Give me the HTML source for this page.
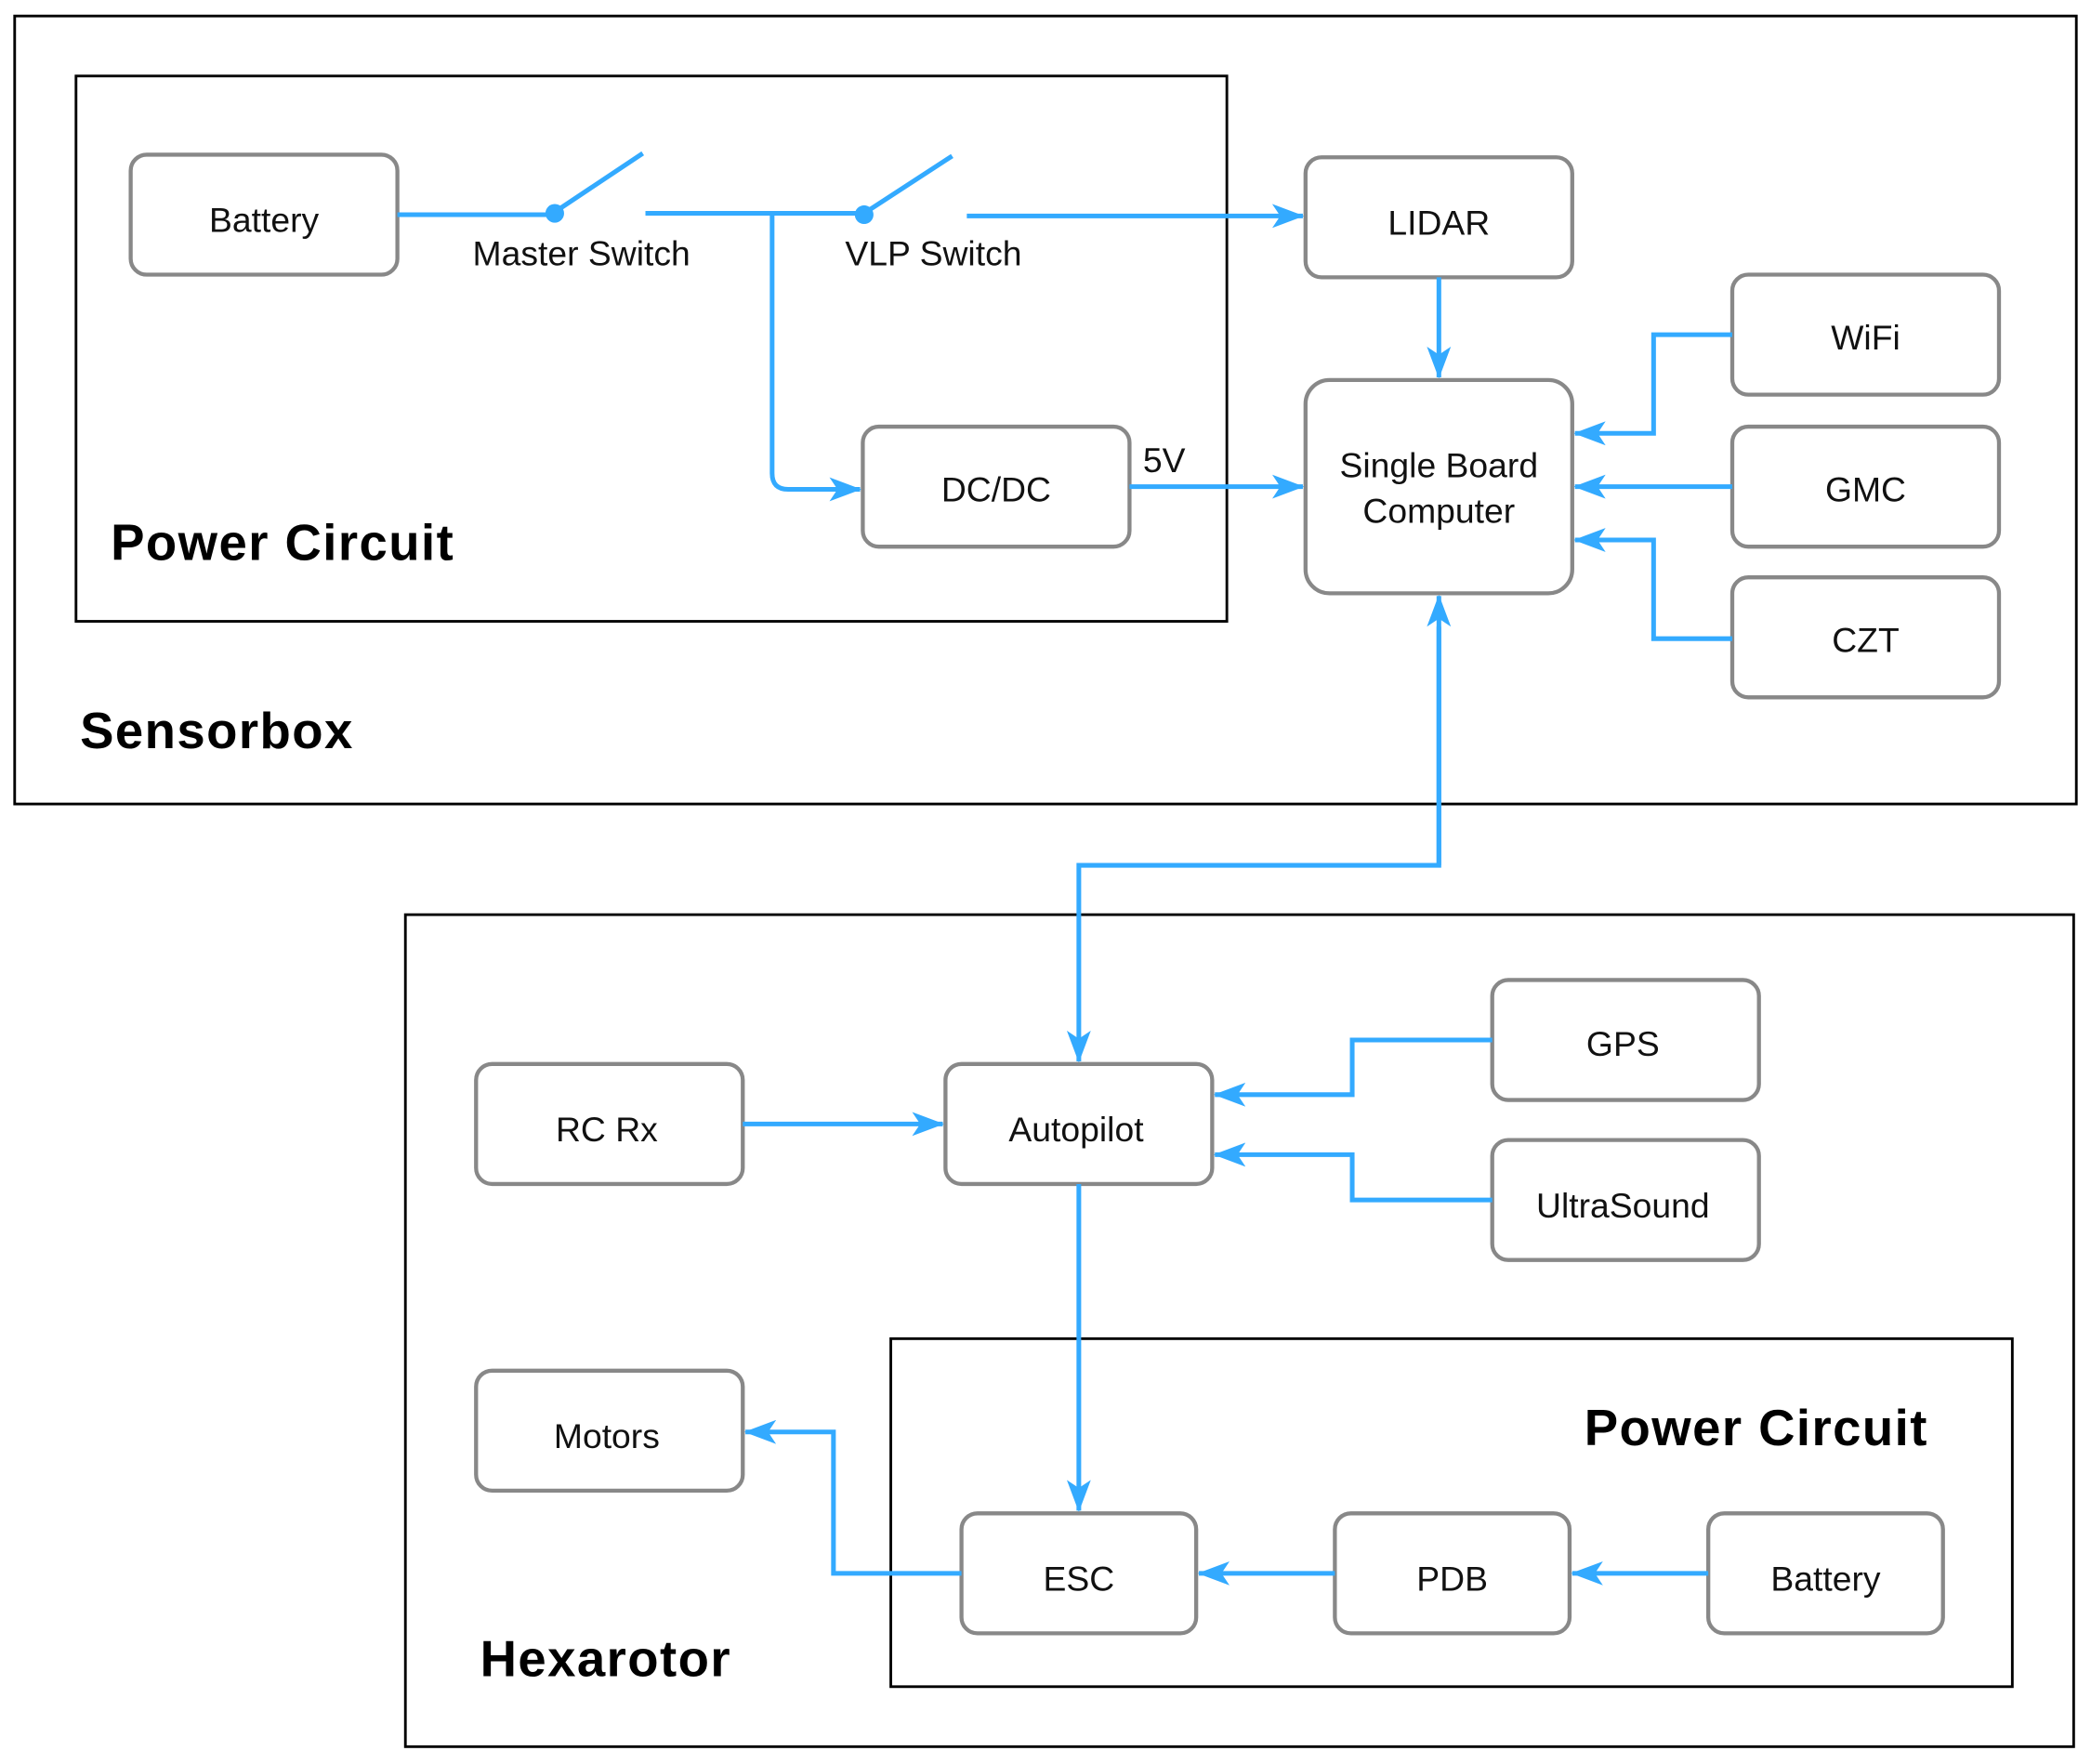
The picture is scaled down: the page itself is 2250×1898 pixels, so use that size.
<!DOCTYPE html>
<html><head><style>html,body{margin:0;padding:0;background:#fff}svg{display:block}</style></head>
<body>
<svg width="2250" height="1898" viewBox="0 0 1568 1323" preserveAspectRatio="none" xmlns="http://www.w3.org/2000/svg" font-family="Liberation Sans, Arial, sans-serif">
<defs>
<marker id="a" viewBox="0 0 24 20" refX="23" refY="10" markerWidth="24" markerHeight="20" markerUnits="userSpaceOnUse" orient="auto">
<path d="M0,1 L24,10 L0,19 L6,10 Z" fill="#33aaff"/>
</marker>
</defs>
<g fill="none" stroke="#000" stroke-width="2">
<rect x="11" y="12" width="1546" height="591"/>
<rect x="57" y="57" width="863" height="409"/>
<rect x="304" y="686" width="1251" height="624"/>
<rect x="668" y="1004" width="841" height="261"/>
</g>
<g font-weight="bold" font-size="38" fill="#000" letter-spacing="1">
<text x="83" y="420">Power Circuit</text>
<text x="60" y="561">Sensorbox</text>
<text x="1188" y="1084">Power Circuit</text>
<text x="360" y="1257">Hexarotor</text>
</g>
<g fill="#fff" stroke="#888" stroke-width="3">
<rect x="98" y="116" width="200" height="90" rx="12"/>
<rect x="979" y="118" width="200" height="90" rx="12"/>
<rect x="979" y="285" width="200" height="160" rx="18"/>
<rect x="1299" y="206" width="200" height="90" rx="12"/>
<rect x="1299" y="320" width="200" height="90" rx="12"/>
<rect x="1299" y="433" width="200" height="90" rx="12"/>
<rect x="647" y="320" width="200" height="90" rx="12"/>
<rect x="1119" y="735" width="200" height="90" rx="12"/>
<rect x="1119" y="855" width="200" height="90" rx="12"/>
<rect x="357" y="798" width="200" height="90" rx="12"/>
<rect x="709" y="798" width="200" height="90" rx="12"/>
<rect x="357" y="1028" width="200" height="90" rx="12"/>
<rect x="721" y="1135" width="176" height="90" rx="12"/>
<rect x="1001" y="1135" width="176" height="90" rx="12"/>
<rect x="1281" y="1135" width="176" height="90" rx="12"/>
</g>
<g font-size="26" fill="#111" text-anchor="middle">
<text x="198" y="174">Battery</text>
<text x="1079" y="176">LIDAR</text>
<text x="1079" y="358">Single Board</text>
<text x="1079" y="392">Computer</text>
<text x="1399" y="262">WiFi</text>
<text x="1399" y="376">GMC</text>
<text x="1399" y="489">CZT</text>
<text x="747" y="376">DC/DC</text>
<text x="1217" y="792">GPS</text>
<text x="1217" y="913">UltraSound</text>
<text x="455" y="856">RC Rx</text>
<text x="807" y="856">Autopilot</text>
<text x="455" y="1086">Motors</text>
<text x="809" y="1193">ESC</text>
<text x="1089" y="1193">PDB</text>
<text x="1369" y="1193">Battery</text>
<text x="436" y="199">Master Switch</text>
<text x="700" y="199">VLP Switch</text>
<text x="873" y="354">5V</text>
</g>
<g fill="none" stroke="#33aaff" stroke-width="3.5" stroke-linejoin="miter">
<path d="M298,161 H416 M416,159 L482,115"/>
<path d="M484,160 H648 M648,160 L714,117"/>
<path d="M725,162 H977" marker-end="url(#a)"/>
<path d="M579,160 V355 Q579,367 591,367 H645" marker-end="url(#a)"/>
<path d="M847,365 H977" marker-end="url(#a)"/>
<path d="M1079,208 V283" marker-end="url(#a)"/>
<path d="M1299,251 H1240 V325 H1181" marker-end="url(#a)"/>
<path d="M1299,365 H1181" marker-end="url(#a)"/>
<path d="M1299,479 H1240 V405 H1181" marker-end="url(#a)"/>
<path d="M1079,470 V649 H809 V796" marker-end="url(#a)"/>
<path d="M1079,649 V447" marker-end="url(#a)"/>
<path d="M557,843 H707" marker-end="url(#a)"/>
<path d="M1119,780 H1014 V821 H911" marker-end="url(#a)"/>
<path d="M1119,900 H1014 V866 H911" marker-end="url(#a)"/>
<path d="M809,888 V1133" marker-end="url(#a)"/>
<path d="M721,1180 H625 V1074 H559" marker-end="url(#a)"/>
<path d="M1001,1180 H899" marker-end="url(#a)"/>
<path d="M1281,1180 H1179" marker-end="url(#a)"/>
</g>
<circle cx="416" cy="160" r="7" fill="#33aaff"/>
<circle cx="648" cy="161" r="7" fill="#33aaff"/>
</svg>
</body></html>
